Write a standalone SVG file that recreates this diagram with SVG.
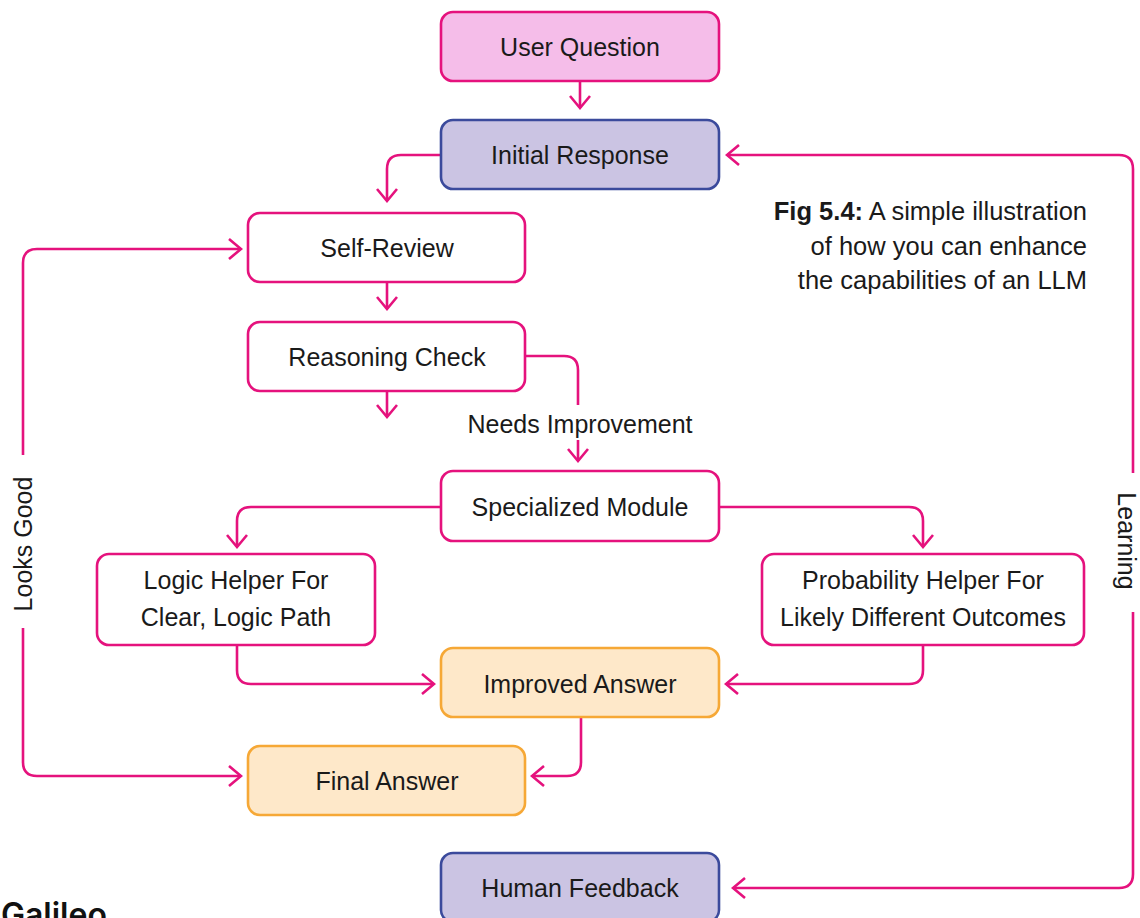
<svg xmlns="http://www.w3.org/2000/svg" width="1140" height="918" viewBox="0 0 1140 918">
<defs>
<style>
.box{stroke-width:2.6}
.w{fill:#ffffff;stroke:#e5127d}
.pk{fill:#f5bde9;stroke:#e5127d}
.pu{fill:#cbc4e3;stroke:#3b4a9c}
.or{fill:#fee8c9;stroke:#f6a836}
.t{font-family:"Liberation Sans",Arial,sans-serif;font-size:25px;fill:#1a1a1a;text-anchor:middle}
.c{fill:none;stroke:#e5127d;stroke-width:2.6}
.cap{font-family:"Liberation Sans",Arial,sans-serif;font-size:25.5px;fill:#1a1a1a;text-anchor:end}
</style>
<marker id="ah" viewBox="-15 -13 17 26" refX="0" refY="0" markerWidth="17" markerHeight="26" markerUnits="userSpaceOnUse" orient="auto">
<path d="M-12,-10 L0,0 L-12,10" fill="none" stroke="#e5127d" stroke-width="2.6"/>
</marker>
</defs>
<rect width="1140" height="918" fill="#ffffff"/>
<g id="connectors">
<path class="c" d="M580,81 V108" marker-end="url(#ah)"/>
<path class="c" d="M441,155 H401 Q387,155 387,169 V201" marker-end="url(#ah)"/>
<path class="c" d="M387,282 V309" marker-end="url(#ah)"/>
<path class="c" d="M387,391 V417" marker-end="url(#ah)"/>
<path class="c" d="M525,356 H564 Q578,356 578,370 V405"/>
<path class="c" d="M578,440 V461" marker-end="url(#ah)"/>
<path class="c" d="M441,507 H251 Q237,507 237,521 V547" marker-end="url(#ah)"/>
<path class="c" d="M719,507 H909 Q923,507 923,521 V547" marker-end="url(#ah)"/>
<path class="c" d="M237,645 V670 Q237,684 251,684 H434" marker-end="url(#ah)"/>
<path class="c" d="M923,645 V670 Q923,684 909,684 H726" marker-end="url(#ah)"/>
<path class="c" d="M581,717 V762 Q581,776 567,776 H532" marker-end="url(#ah)"/>
<path class="c" d="M23,455 V263 Q23,249 37,249 H241" marker-end="url(#ah)"/>
<path class="c" d="M23,628 V762 Q23,776 37,776 H241" marker-end="url(#ah)"/>
<path class="c" d="M1133,473 V169 Q1133,155 1119,155 H727" marker-end="url(#ah)"/>
<path class="c" d="M1133,612 V874 Q1133,888 1119,888 H733" marker-end="url(#ah)"/>
<text class="t" x="580" y="433">Needs Improvement</text>
<text class="t" transform="translate(32,544) rotate(-90)">Looks Good</text>
<text class="t" transform="translate(1118,541) rotate(90)">Learning</text>
</g>
<g id="user-question"><rect class="box pk" x="441" y="12" width="278" height="69" rx="12"/><text class="t" x="580" y="56">User Question</text></g>
<g id="initial-response"><rect class="box pu" x="441" y="120" width="278" height="69" rx="12"/><text class="t" x="580" y="164">Initial Response</text></g>
<g id="self-review"><rect class="box w" x="248" y="213" width="277" height="69" rx="12"/><text class="t" x="387" y="257">Self-Review</text></g>
<g id="reasoning-check"><rect class="box w" x="248" y="322" width="277" height="69" rx="12"/><text class="t" x="387" y="366">Reasoning Check</text></g>
<g id="specialized-module"><rect class="box w" x="441" y="471" width="278" height="70" rx="12"/><text class="t" x="580" y="516">Specialized Module</text></g>
<g id="logic-helper"><rect class="box w" x="97" y="554" width="278" height="91" rx="12"/><text class="t" x="236" y="589">Logic Helper For</text><text class="t" x="236" y="626">Clear, Logic Path</text></g>
<g id="probability-helper"><rect class="box w" x="762" y="554" width="322" height="91" rx="12"/><text class="t" x="923" y="589">Probability Helper For</text><text class="t" x="923" y="626">Likely Different Outcomes</text></g>
<g id="improved-answer"><rect class="box or" x="441" y="648" width="278" height="69" rx="12"/><text class="t" x="580" y="693">Improved Answer</text></g>
<g id="final-answer"><rect class="box or" x="248" y="746" width="277" height="69" rx="12"/><text class="t" x="387" y="790">Final Answer</text></g>
<g id="human-feedback"><rect class="box pu" x="441" y="853" width="278" height="69" rx="12"/><text class="t" x="580" y="897">Human Feedback</text></g>
<g id="caption">
<text class="cap" x="1087" y="220"><tspan font-weight="bold">Fig 5.4:</tspan> A simple illustration</text>
<text class="cap" x="1087" y="255">of how you can enhance</text>
<text class="cap" x="1087" y="289">the capabilities of an LLM</text>
</g>
<g id="logo"><text x="1" y="926" font-family="Inter,'Liberation Sans',sans-serif" font-size="32" font-weight="600" fill="#111111">Galileo</text></g>
</svg>
